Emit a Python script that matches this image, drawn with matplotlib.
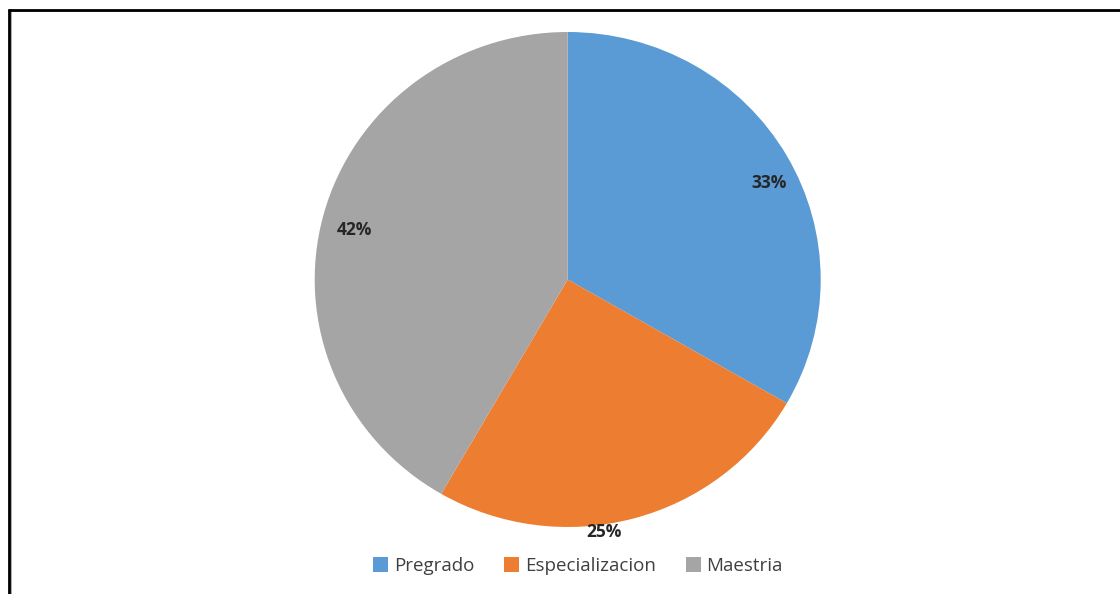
import numpy as np
import matplotlib
matplotlib.use("Agg")
import matplotlib.pyplot as plt
from matplotlib.lines import Line2D

# responses by degree level
categories = ["Pregrado", "Especializacion", "Maestria"]
counts = [4, 3, 5]
colors = ["#5B9BD5", "#ED7D31", "#A5A5A5"]

W, H = 1120, 594
fig = plt.figure(figsize=(W / 100, H / 100), dpi=100)
fig.patch.set_facecolor("white")

# pie area in pixels (left, top, right, bottom)
px_l, px_t, px_r, px_b = 314.7, 32.0, 820.7, 527.0
ax = fig.add_axes([px_l / W, 1 - px_b / H, (px_r - px_l) / W, (px_b - px_t) / H])

wedges, _ = ax.pie(counts, colors=colors, startangle=90, counterclock=False,
                   radius=1.0, center=(0, 0), frame=False,
                   wedgeprops=dict(linewidth=0, antialiased=True))
ax.set_xlim(-1, 1)
ax.set_ylim(-1, 1)
ax.set_aspect("auto")
ax.axis("off")

# percentage labels, placed near each wedge's mid angle
total = sum(counts)
pcts = [100.0 * c / total for c in counts]
label_r = [0.885, 1.03, 0.865]
label_shift = [-4.0, -7.0, 1.5]  # degrees
for w, p, r, s in zip(wedges, pcts, label_r, label_shift):
    mid = np.deg2rad((w.theta1 + w.theta2) / 2 + s)
    ax.text(r * np.cos(mid), r * np.sin(mid), f"{p:.0f}%",
            ha="center", va="center", fontsize=12.5, fontweight="bold",
            color="#262626", family="Open Sans")

fig.legend(wedges, categories, loc="center", bbox_to_anchor=(578 / W, 1 - 566 / H),
           ncol=3, frameon=False, handlelength=0.8, handleheight=0.8,
           handletextpad=0.3, columnspacing=1.6, labelcolor="#404040",
           prop={"family": "Open Sans", "size": 13.5})

# frame along the top and left edges
def fx(x):
    return x / W


def fy(y):
    return 1 - y / H


fig.add_artist(Line2D([fx(10), fx(W)], [fy(11.3), fy(11.3)], color="#9a9a9a", lw=1.2))
fig.add_artist(Line2D([fx(10.6), fx(10.6)], [fy(10), fy(H)], color="#9a9a9a", lw=1.2))
fig.add_artist(Line2D([fx(8), fx(W)], [fy(9.5), fy(9.5)], color="black", lw=2.0,
                      solid_capstyle="butt"))
fig.add_artist(Line2D([fx(8.7), fx(8.7)], [fy(8.5), fy(H)], color="black", lw=2.0,
                      solid_capstyle="butt"))

fig.savefig("out.png", dpi=100, facecolor="white")
